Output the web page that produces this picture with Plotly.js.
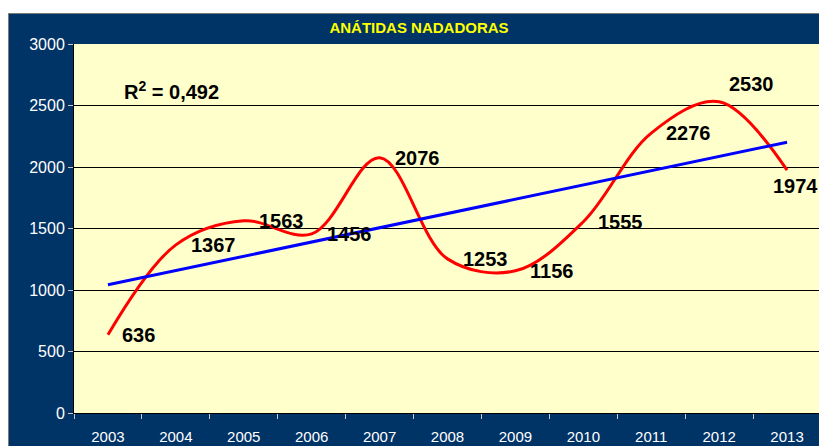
<!DOCTYPE html>
<html>
<head>
<meta charset="utf-8">
<script src="https://cdn.plot.ly/plotly-3.0.1.min.js"></script>
<style>
  html, body { margin: 0; padding: 0; background: #ffffff; overflow: hidden; width: 819px; height: 446px; }
  #frame { position: absolute; left: 8px; top: 13px; width: 830px; height: 445px;
           border-left: 1px solid #7a7a7a; border-top: 1px solid #7a7a7a; background: #003366; }
  #chart { width: 830px; height: 445px; }
</style>
</head>
<body>
<div id="frame"><div id="chart"></div></div>
<script>
// ---- data ----
const years = ['2003','2004','2005','2006','2007','2008','2009','2010','2011','2012','2013'];
const counts = [636, 1367, 1563, 1456, 2076, 1253, 1156, 1555, 2276, 2530, 1974];
const yTicks = [0, 500, 1000, 1500, 2000, 2500, 3000];
const chartTitle = 'ANÁTIDAS NADADORAS';
const r2Text = 'R<sup>2</sup> = 0,492';

// linear trend (least squares) over category index
const n = counts.length;
const idx = counts.map((_, i) => i);
const mx = idx.reduce((a, b) => a + b, 0) / n;
const my = counts.reduce((a, b) => a + b, 0) / n;
let sxy = 0, sxx = 0;
idx.forEach((x, i) => { sxy += (x - mx) * (counts[i] - my); sxx += (x - mx) * (x - mx); });
const slope = sxy / sxx;
const intercept = my - slope * mx;
const trend = idx.map(x => intercept + slope * x);

const lblFont = { family: 'Arial, "Liberation Sans", sans-serif', size: 20, color: '#000000' };

// label offsets (style only)
const shiftX = [12, 13, 13, 13, 13, 13, 13, 13, 13, 8, -16];
const shiftY = [0, 0, 0, 0, 0, 0, 0, 0, 0, 18, -16];

const annotations = counts.map((v, i) => ({
  x: i, y: v, xref: 'x', yref: 'y', text: '<b>' + String(v) + '</b>', showarrow: false,
  xanchor: 'left', yanchor: 'middle', xshift: shiftX[i], yshift: shiftY[i],
  font: lblFont
}));
annotations.push({
  xref: 'paper', yref: 'paper', x: 0.064, y: 0.875, xanchor: 'left', yanchor: 'middle',
  text: '<b>' + r2Text + '</b>', showarrow: false, font: lblFont
});

const traces = [
  { x: years, y: counts, type: 'scatter', mode: 'lines',
    line: { color: '#ff0000', width: 3, shape: 'spline', smoothing: 1 }, hoverinfo: 'skip' },
  { x: years, y: trend, type: 'scatter', mode: 'lines',
    line: { color: '#0000ff', width: 3 }, hoverinfo: 'skip' }
];

const layout = {
  width: 830, height: 445,
  paper_bgcolor: '#003366', plot_bgcolor: '#ffffcc',
  margin: { l: 65, r: 18, t: 30, b: 46 },
  showlegend: false,
  title: { text: '<b>' + chartTitle + '</b>', xref: 'container', yref: 'container',
           x: 0.494, y: 1 - 14 / 445, xanchor: 'center', yanchor: 'middle',
           font: { family: '"Liberation Sans Narrow", "Arial Narrow", Arial, sans-serif', size: 15, color: '#ffff00' } },
  xaxis: {
    type: 'category', range: [-0.5, 10.5], tickson: 'boundaries',
    showgrid: false, zeroline: false, showline: true, linecolor: '#000000', linewidth: 1,
    ticks: 'outside', ticklen: 5, tickcolor: '#c8c8c8', tickwidth: 1,
    tickfont: { family: 'Arial, "Liberation Sans", sans-serif', size: 15, color: '#ffffff' },
    ticklabelstandoff: 10
  },
  yaxis: {
    range: [0, 3000], tickvals: yTicks, ticktext: yTicks.map(String),
    showgrid: true, gridcolor: '#000000', gridwidth: 1, zeroline: false,
    showline: true, linecolor: '#000000', linewidth: 1,
    ticks: 'outside', ticklen: 5, tickcolor: '#c8c8c8', tickwidth: 1,
    tickfont: { family: 'Arial, "Liberation Sans", sans-serif', size: 16, color: '#ffffff' }
  },
  annotations: annotations
};

Plotly.newPlot('chart', traces, layout, { displayModeBar: false, staticPlot: true });
</script>
</body>
</html>
